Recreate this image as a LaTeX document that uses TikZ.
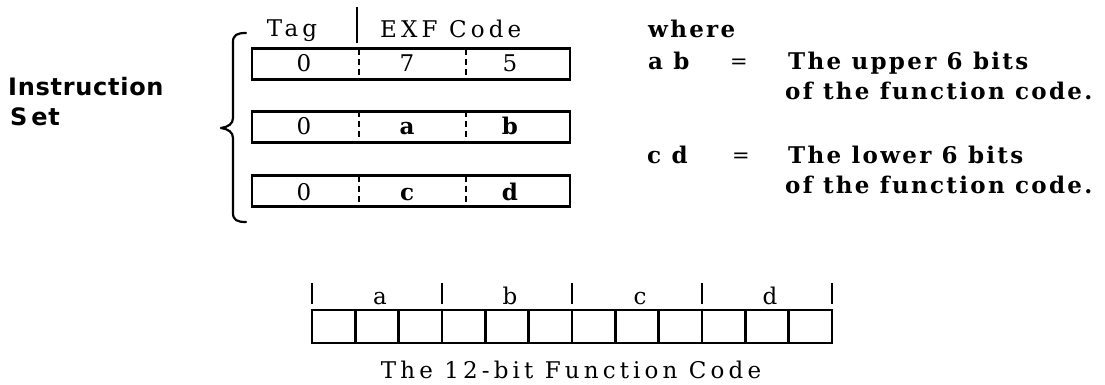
\documentclass[tikz,border=0pt]{standalone}
\usepackage{fontspec}
\setmainfont{DejaVu Serif}
\newfontfamily\dvsans{DejaVu Sans}
\begin{document}
\begin{tikzpicture}[x=1pt,y=-1pt,
  lt/.style={font=\fontsize{23}{27}\selectfont\addfontfeatures{LetterSpace=18}, inner sep=0pt},
  bd/.style={font=\fontsize{23}{27}\selectfont\bfseries\addfontfeatures{LetterSpace=10}, inner sep=0pt},
  eqs/.style={font=\fontsize{21}{24}\selectfont, inner sep=0pt},
  sb/.style={font=\fontsize{24}{28}\selectfont\dvsans\bfseries\addfontfeatures{LetterSpace=3}, inner sep=0pt, anchor=base west},
  rowbox/.style={draw, rectangle, line width=2.5pt, minimum width=318pt, minimum height=31pt, inner sep=0pt},
  dashdiv/.style={line width=2pt, dash pattern=on 6pt off 4pt},
  cell/.style={draw, rectangle, line width=2.5pt, minimum width=43.33pt, minimum height=33pt, inner sep=0pt},
  tickline/.style={line width=1.8pt},
  brace/.style={line width=2.2pt, line cap=round, line join=round}
]
\useasboundingbox (0,0) rectangle (1105,385);

% left label
\node[sb] (instr) at (8,96) {Instruction};
\node[sb] (set) at (10,126) {S\,et};

% brace
\draw[brace] (246,33) .. controls (237,33) and (233,35) .. (233,42) -- (233,118)
  .. controls (233,124) and (228,127) .. (221,128)
  .. controls (228,129) and (233,132) .. (233,138) -- (233,213)
  .. controls (233,220) and (237,222) .. (246,222);

% header
\node[lt, anchor=base] (tag) at (292,37) {Tag};
\node[lt, anchor=base west] (exf) at (380,38) {EXF Code};
\draw[line width=2.8pt] (357,7) -- (357,43);

% rows
\node[rowbox] (row1) at (411,64) {};
\node[rowbox] (row2) at (411,127) {};
\node[rowbox] (row3) at (411,191) {};
\foreach \r/\yt/\yb in {row1/49/79, row2/111.5/142.5, row3/175.5/206.5}{
  \draw[dashdiv] (359,\yt) -- (359,\yb);
  \draw[dashdiv] (466,\yt) -- (466,\yb);
}
\node[lt, anchor=base] (t1) at (304,72) {0};
\node[lt, anchor=base] (x1) at (407,72) {7};
\node[lt, anchor=base] (y1) at (510,72) {5};
\node[lt, anchor=base] (t2) at (304,135) {0};
\node[bd, anchor=base] (x2) at (407,135) {a};
\node[bd, anchor=base] (y2) at (510,135) {b};
\node[lt, anchor=base] (t3) at (304,200) {0};
\node[bd, anchor=base] (x3) at (407,200) {c};
\node[bd, anchor=base] (y3) at (510,200) {d};

% right explanation
\node[bd, anchor=base west] (where) at (648,38) {where};
\node[bd, anchor=base west] (ab) at (648,70) {a b};
\node[eqs, anchor=base] (eq1) at (739,69) {=};
\node[bd, anchor=base west] (up1) at (788,70) {The upper 6 bits};
\node[bd, anchor=base west] (up2) at (785,100) {of the function code.};
\node[bd, anchor=base west] (cd) at (647,163) {c d};
\node[eqs, anchor=base] (eq2) at (741,162) {=};
\node[bd, anchor=base west] (lo1) at (788,163) {The lower 6 bits};
\node[bd, anchor=base west] (lo2) at (785,193) {of the function code.};

% 12-bit function code
\foreach \i in {0,...,11}{
  \node[cell] (c\i) at ({312+43.333*\i+21.667},326.5) {};
}
\foreach \x in {312,442,572,702,832}{
  \draw[tickline] (\x,283) -- (\x,304);
}
\node[lt, anchor=base] (la) at (380,304) {a};
\node[lt, anchor=base] (lb) at (510,304) {b};
\node[lt, anchor=base] (lc) at (640,304) {c};
\node[lt, anchor=base] (ld) at (770,304) {d};
\node[lt, anchor=base] (cap) at (571,378) {The 12-bit Function Code};
\end{tikzpicture}
\end{document}
